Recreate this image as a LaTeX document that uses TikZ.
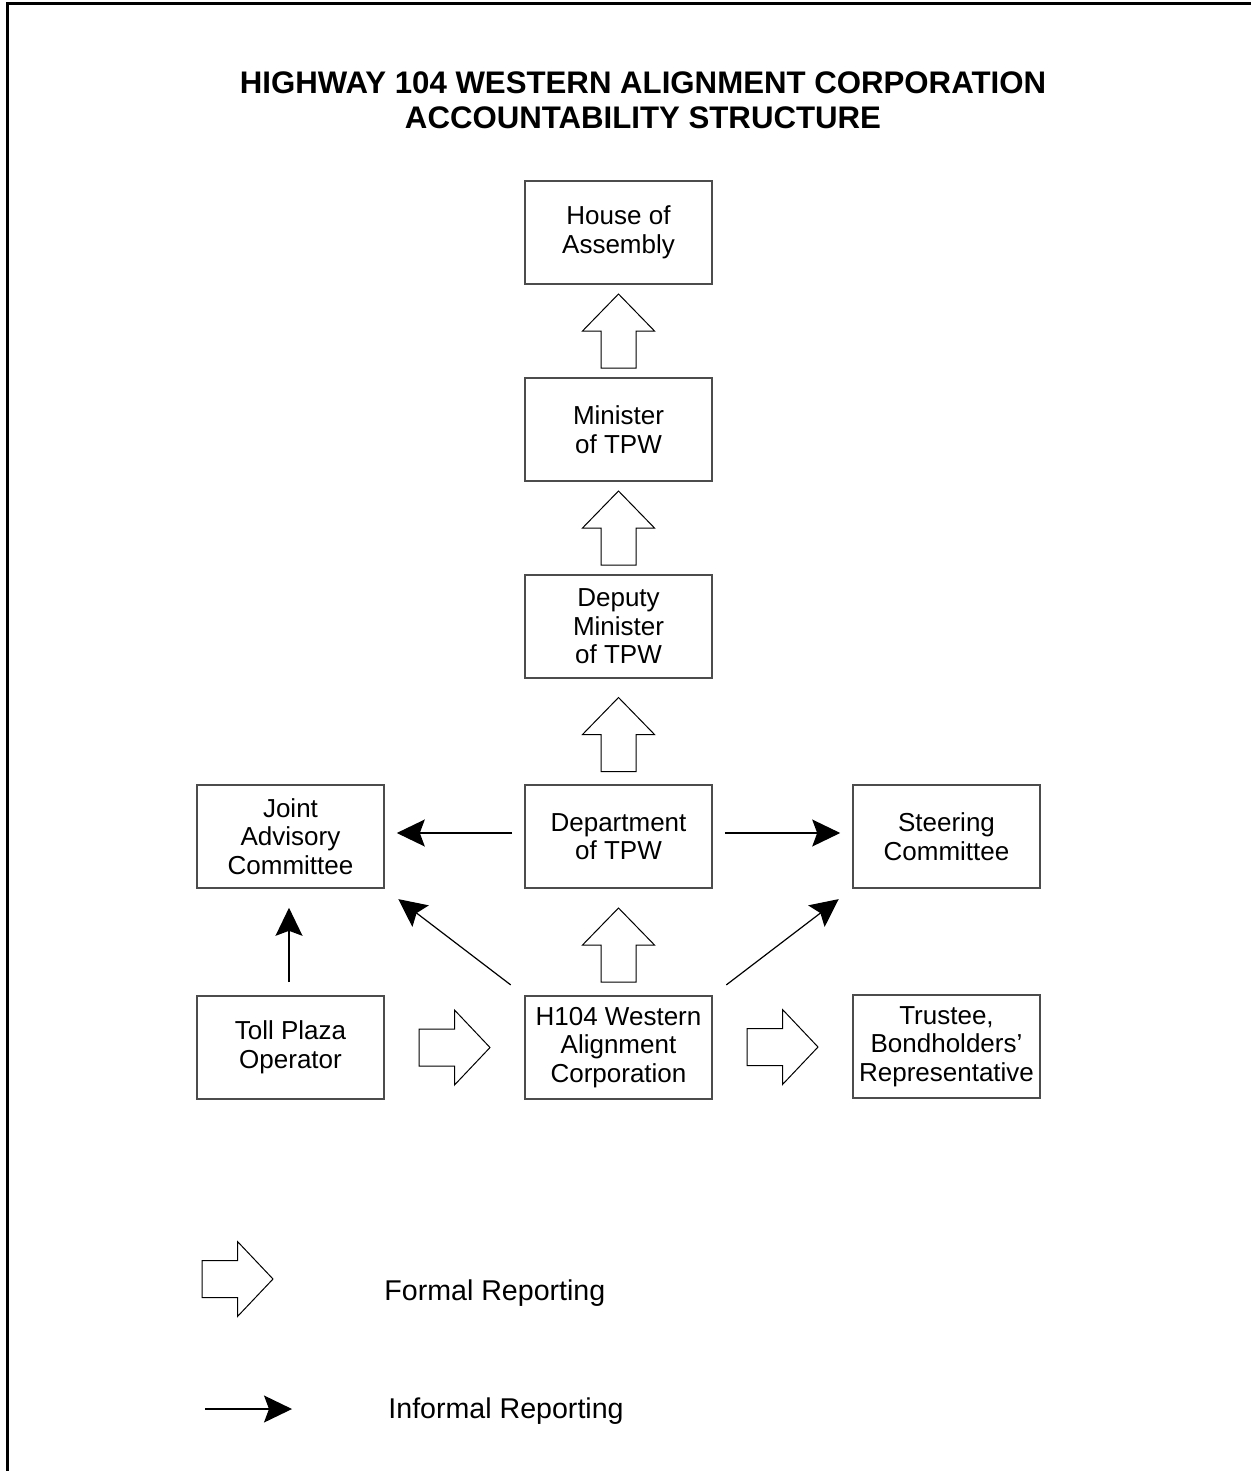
\documentclass[tikz,border=0pt]{standalone}
\usepackage{fontspec}
\setmainfont{Liberation Sans}
\usetikzlibrary{arrows.meta,calc}
\begin{document}
\begin{tikzpicture}[x=0.5pt,y=-0.5pt,
  box/.style={draw=black!70, line width=0.8pt, minimum width=93.5pt, minimum height=51.5pt, inner sep=0pt, align=center, font=\fontsize{13}{14.3}\selectfont},
  inf/.style={-{Stealth[length=14pt,width=13.5pt,inset=2.5pt]}, line width=0.6pt},
  blk/.style={draw=black, line width=0.5pt, fill=white, line join=miter},
  pics/bup/.style={code={\draw[blk] (0,-37) -- (36,0) -- (17.5,0) -- (17.5,37) -- (-17.5,37) -- (-17.5,0) -- (-36,0) -- cycle;}},
  pics/bright/.style={code={\draw[blk] (35.5,0) -- (0,-37.5) -- (0,-18.5) -- (-35.5,-18.5) -- (-35.5,18.5) -- (0,18.5) -- (0,37.5) -- cycle;}},
  legtext/.style={anchor=base west, inner sep=0pt, font=\fontsize{14.3}{17}\selectfont}
]
\useasboundingbox (0,0) rectangle (1251,1471);
\fill[white] (0,0) rectangle (1251,1471);
% frame
\draw[line width=1.5pt] (7.5,1475) -- (7.5,4) -- (1255,4);

% title
\node[font=\fontsize{15.6}{17.5}\selectfont\bfseries, align=center, inner sep=0pt] (title) at (643,100.5)
  {HIGHWAY 104 WESTERN ALIGNMENT CORPORATION\\ACCOUNTABILITY STRUCTURE};

% boxes
\node[box] (house) at (618.5,232.5) {House of\\Assembly};
\node[box] (min)   at (618.5,429.5) {Minister\\of TPW};
\node[box] (dep)   at (618.5,626.5) {Deputy\\Minister\\of TPW};
\node[box] (dept)  at (618.5,836.5) {Department\\of TPW};
\node[box] (joint) at (290.5,836.5) {Joint\\Advisory\\Committee};
\node[box] (steer) at (946.5,836.5) {Steering\\Committee};
\node[box] (toll)  at (290.5,1047.5) {Toll Plaza\\Operator};
\node[box] (h104)  at (618.5,1047.5) {H104 Western\\Alignment\\Corporation};
\node[box] (trust) at (946.5,1046.5) {Trustee,\\Bondholders'\\Representative};

% formal reporting (block arrows)
\pic at ($(house.south)!0.5!(min.north)$) {bup};
\pic at ($(min.south)!0.5!(dep.north)$) {bup};
\pic at ($(dep.south)!0.5!(dept.north)+(0,3)$) {bup};
\pic at ($(dept.south)!0.5!(h104.north)+(0,3)$) {bup};
\pic at ($(toll.east)!0.5!(h104.west)$) {bright};
\pic at ($(h104.east)!0.5!(trust.west)$) {bright};

% informal reporting
\draw[inf, shorten <=6pt, shorten >=6pt] ([yshift=1.75pt]dept.west) -- ([yshift=1.75pt]joint.east);
\draw[inf, shorten <=6pt, shorten >=6pt] ([yshift=1.75pt]dept.east) -- ([yshift=1.75pt]steer.west);
\draw[inf, shorten <=6.5pt, shorten >=9.5pt] ([xshift=-0.75pt]toll.north) -- ([xshift=-0.75pt]joint.south);
\draw[inf, shorten <=8.5pt, shorten >=8.5pt] (h104.north west) -- (joint.south east);
\draw[inf, shorten <=8.5pt, shorten >=8.5pt] (h104.north east) -- (steer.south west);

% legend
\pic at (237.5,1279) {bright};
\node[legtext] (lformal) at (384,1300) {Formal Reporting};
\coordinate (la) at (205,1409);
\coordinate (lb) at (292,1409);
\draw[inf] (la) -- (lb);
\node[legtext] (linformal) at (388,1418) {Informal Reporting};
\end{tikzpicture}
\end{document}
